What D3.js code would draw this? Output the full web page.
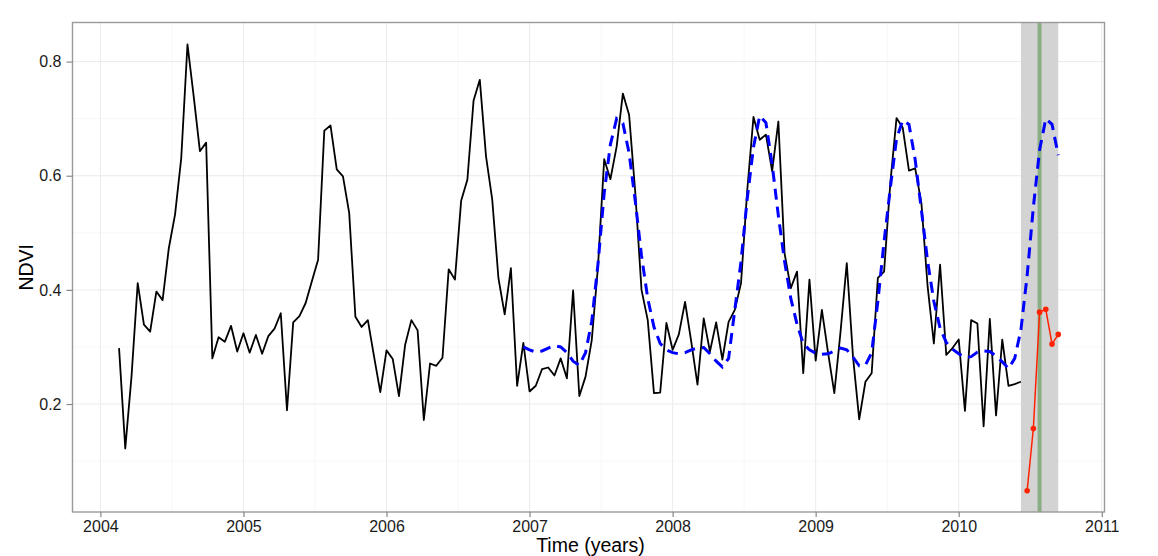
<!DOCTYPE html>
<html><head><meta charset="utf-8">
<script src="https://cdn.jsdelivr.net/npm/d3@7"></script>
<style>
body{margin:0;background:#fff}
svg{display:block}
text{font-family:"Liberation Sans",Arial,Helvetica,sans-serif}
</style>
</head><body>
<svg id="chart" width="1158" height="556"></svg>
<script>
// ---- data (16-day composites, 23 per year) ----
const frequency = 23;
const ndviStart = [2004, 4];          // year, composite number
const ndvi = [
  0.298,0.122,0.248,0.412,0.339,0.327,0.397,0.382,0.473,0.532,0.631,0.830,0.739,0.643,0.658,0.280,0.317,0.309,0.337,0.292,
  0.324,0.290,0.321,0.288,0.319,0.332,0.359,0.189,0.343,0.354,0.377,0.415,0.453,0.679,0.688,0.611,0.599,0.535,0.353,0.335,
  0.347,0.283,0.221,0.294,0.279,0.214,0.304,0.347,0.329,0.172,0.271,0.267,0.281,0.436,0.418,0.556,0.593,0.732,0.768,0.634,
  0.558,0.420,0.357,0.438,0.232,0.307,0.222,0.232,0.261,0.264,0.250,0.280,0.245,0.399,0.214,0.248,0.312,0.441,0.629,0.594,
  0.651,0.744,0.707,0.570,0.400,0.347,0.219,0.220,0.342,0.295,0.322,0.379,0.309,0.234,0.350,0.292,0.343,0.278,0.344,0.365,
  0.412,0.575,0.703,0.663,0.672,0.608,0.695,0.464,0.403,0.432,0.254,0.418,0.276,0.365,0.289,0.219,0.327,0.447,0.283,0.173,
  0.239,0.254,0.421,0.432,0.587,0.701,0.684,0.609,0.613,0.552,0.406,0.306,0.444,0.286,0.298,0.313,0.188,0.347,0.341,0.161,
  0.349,0.180,0.313,0.232,0.235,0.239
];
const fitStart = [2006, 23];
const seasonalFit = [
  0.300,
  0.295,0.291,0.293,0.298,0.302,0.300,0.290,0.275,0.268,0.290,0.345,0.445,0.570,0.655,0.700,0.692,0.640,0.555,0.460,0.385,0.335,0.306,0.295,
  0.290,0.288,0.290,0.295,0.298,0.299,0.288,0.275,0.265,0.280,0.365,0.450,0.560,0.650,0.705,0.693,0.620,0.530,0.450,0.385,0.340,0.306,0.295,
  0.289,0.287,0.288,0.293,0.298,0.295,0.282,0.267,0.268,0.290,0.380,0.485,0.578,0.665,0.697,0.690,0.628,0.540,0.450,0.380,0.333,0.308,0.296,
  0.288,0.282,0.283,0.291,0.293,0.292,0.284,0.274,0.262,0.280,0.330,0.425,0.545,0.645,0.700,0.690,0.636
];
const monitorStart = [2010, 12];
const monitorNdvi = [0.048,0.157,0.361,0.366,0.305,0.322];
const monitorPeriod = [[2010, 11], [2010, 17]];
const breakPoint = [2010, 14];
const xTicks = [2004,2005,2006,2007,2008,2009,2010,2011];
const xMinor = [2004.5,2005.5,2006.5,2007.5,2008.5,2009.5,2010.5];
const yTicks = [0.2,0.4,0.6,0.8];
const yMinor = [0.1,0.3,0.5,0.7];

const toTime = (s, i) => s[0] + (s[1] - 1 + i) / frequency;

// ---- layout ----
const svg = d3.select("#chart");
const L = 72.5, R = 1104.5, T = 22.5, B = 512;
const x = d3.scaleLinear().domain([2003.805, 2011.019]).range([L, R]);
const y = d3.scaleLinear().domain([0.0108, 0.8685]).range([B, T]);

svg.append("rect").attr("width",1158).attr("height",556).attr("fill","#fff");

const grid = svg.append("g");
grid.selectAll(".vminor").data(xMinor).join("line")
  .attr("x1", d=>x(d)).attr("x2", d=>x(d)).attr("y1", T).attr("y2", B)
  .attr("stroke", "#f7f7f7").attr("stroke-width", 1);
grid.selectAll(".hminor").data(yMinor).join("line")
  .attr("y1", d=>y(d)).attr("y2", d=>y(d)).attr("x1", L).attr("x2", R)
  .attr("stroke", "#f7f7f7").attr("stroke-width", 1);
grid.selectAll(".vmajor").data(xTicks).join("line")
  .attr("x1", d=>x(d)).attr("x2", d=>x(d)).attr("y1", T).attr("y2", B)
  .attr("stroke", "#ebebeb").attr("stroke-width", 1);
grid.selectAll(".hmajor").data(yTicks).join("line")
  .attr("y1", d=>y(d)).attr("y2", d=>y(d)).attr("x1", L).attr("x2", R)
  .attr("stroke", "#ebebeb").attr("stroke-width", 1);

// monitoring period band and break line
const p0 = toTime(monitorPeriod[0], 0), p1 = toTime(monitorPeriod[1], 0);
svg.append("rect").attr("x", x(p0)).attr("y", T).attr("width", x(p1) - x(p0)).attr("height", B - T)
  .attr("fill", "#d3d3d3");
const bt = toTime(breakPoint, 0);
svg.append("line").attr("x1", x(bt)).attr("x2", x(bt)).attr("y1", T).attr("y2", B)
  .attr("stroke", "#8aae83").attr("stroke-width", 4);

// NDVI series
const line = d3.line().x(d=>x(d[0])).y(d=>y(d[1]));
const ndviPts = ndvi.map((v,i)=>[toTime(ndviStart,i), v]);
svg.append("path").attr("d", line(ndviPts)).attr("fill","none")
  .attr("stroke","#000").attr("stroke-width",1.8).attr("stroke-linejoin","round");

// seasonal model fit
const fitPts = seasonalFit.map((v,i)=>[toTime(fitStart,i), v]);
svg.append("path").attr("d", line(fitPts)).attr("fill","none")
  .attr("stroke","#0000ff").attr("stroke-width",3).attr("stroke-dasharray","11,7");

// monitored data
const monPts = monitorNdvi.map((v,i)=>[toTime(monitorStart,i), v]);
svg.append("path").attr("d", line(monPts)).attr("fill","none")
  .attr("stroke","#ff2200").attr("stroke-width",1.5);
svg.selectAll(".mon").data(monPts).join("circle")
  .attr("cx", d=>x(d[0])).attr("cy", d=>y(d[1])).attr("r", 2.8).attr("fill","#ff2200");

// border
svg.append("rect").attr("x", L).attr("y", T).attr("width", R-L).attr("height", B-T)
  .attr("fill","none").attr("stroke","#9a9a9a").attr("stroke-width",1.4);

// axes
const xAxis = svg.append("g").attr("transform", `translate(0,${B})`)
  .call(d3.axisBottom(x).tickValues(xTicks).tickFormat(d3.format("d")).tickSize(5).tickPadding(4));
const yAxis = svg.append("g").attr("transform", `translate(${L},0)`)
  .call(d3.axisLeft(y).tickValues(yTicks).tickFormat(d3.format(".1f")).tickSize(6).tickPadding(5));
[xAxis, yAxis].forEach(a => {
  a.select(".domain").remove();
  a.selectAll(".tick line").attr("stroke","#888").attr("stroke-width",1.2);
  a.selectAll(".tick text").attr("fill","#1a1a1a").style("font-size","16px")
   .style("font-family",'"Liberation Sans",Arial,sans-serif');
});

svg.append("text").attr("x", (L+R)/2 + 2).attr("y", 552).attr("text-anchor","middle")
  .style("font-size","19.5px").attr("fill","#000").text("Time (years)");
svg.append("text").attr("transform", `translate(33,${(T+B)/2}) rotate(-90)`).attr("text-anchor","middle")
  .style("font-size","19.5px").attr("fill","#000").text("NDVI");
</script>
</body></html>
